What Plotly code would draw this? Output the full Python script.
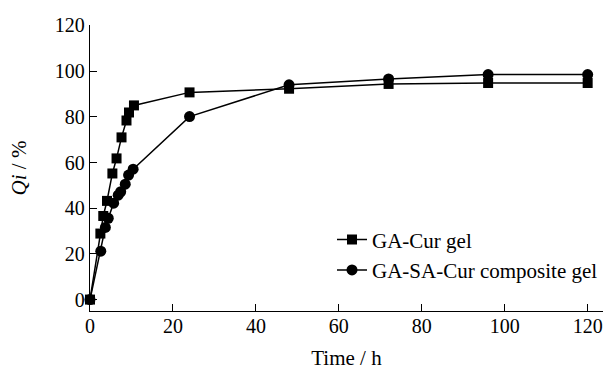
import plotly.graph_objects as go

t_ga = [0, 2.5, 3.2, 4.1, 5.4, 6.4, 7.6, 8.8, 9.4, 10.6, 24, 48, 72, 96, 120]
q_ga = [0, 28.9, 36.6, 43.2, 55.2, 61.8, 71.0, 78.4, 81.9, 85.0, 90.7, 92.3, 94.4, 94.8, 94.8]

t_gasa = [0, 2.6, 3.7, 4.4, 5.7, 6.8, 7.4, 8.5, 9.3, 10.4, 24, 48, 72, 96, 120]
q_gasa = [0, 21.2, 31.6, 35.6, 42.2, 45.7, 47.2, 50.5, 54.5, 57.1, 80.1, 94.0, 96.6, 98.5, 98.5]

x_ticks = [0, 20, 40, 60, 80, 100, 120]
y_ticks = [0, 20, 40, 60, 80, 100, 120]

font_family = "Liberation Serif, Times New Roman, serif"

fig = go.Figure()
fig.add_trace(go.Scatter(
    x=t_ga, y=q_ga, mode="lines+markers", name="GA-Cur gel",
    line=dict(color="black", width=1.5),
    marker=dict(symbol="square", size=10, color="black"),
    cliponaxis=False,
))
fig.add_trace(go.Scatter(
    x=t_gasa, y=q_gasa, mode="lines+markers", name="GA-SA-Cur composite gel",
    line=dict(color="black", width=1.5),
    marker=dict(symbol="circle", size=11, color="black"),
    cliponaxis=False,
))

fig.update_layout(
    width=603, height=370,
    margin=dict(l=90, r=0, t=25, b=59),
    paper_bgcolor="white", plot_bgcolor="white",
    font=dict(family=font_family, size=20, color="black"),
    showlegend=True,
    legend=dict(
        x=0.472, y=0.196, xanchor="left", yanchor="middle",
        bgcolor="rgba(0,0,0,0)", font=dict(size=21),
        itemwidth=30, tracegroupgap=0,
    ),
    xaxis=dict(
        range=[0, 123.7], tickvals=x_ticks, ticktext=[str(v) for v in x_ticks],
        showline=True, linecolor="black", linewidth=1.3,
        ticks="inside", ticklen=7, tickcolor="black", tickwidth=1.3,
        showgrid=False, zeroline=False, ticklabeloverflow="allow",
        ticklabelstandoff=-3, automargin=False,
        title=dict(text="Time / h", font=dict(size=21), standoff=23),
        tickfont=dict(size=20),
    ),
    yaxis=dict(
        range=[-5, 120.2], tickvals=y_ticks, ticktext=[str(v) for v in y_ticks],
        showline=True, linecolor="black", linewidth=1.3,
        ticks="inside", ticklen=7, tickcolor="black", tickwidth=1.3,
        showgrid=False, zeroline=False,
        title=dict(text="<i>Qi</i> / %", font=dict(size=21), standoff=22),
        tickfont=dict(size=20),
    ),
)

fig.write_html("out.html")
